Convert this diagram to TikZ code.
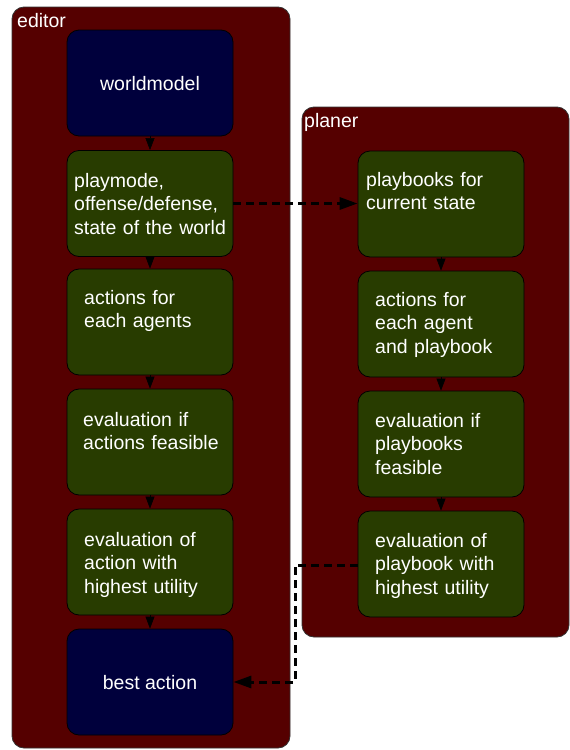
\documentclass[tikz,border=0pt]{standalone}
\usepackage{fontspec}
\setmainfont{Liberation Sans}
\usetikzlibrary{arrows.meta}
\definecolor{contred}{RGB}{85,0,0}
\definecolor{boxnavy}{RGB}{0,0,60}
\definecolor{boxgreen}{RGB}{40,60,0}
\tikzset{
  container/.style={draw=black!80, line width=0.8pt, fill=contred, rounded corners=12pt},
  boxbase/.style={draw=black, line width=0.8pt, rounded corners=12pt, minimum width=166pt, minimum height=106pt, inner sep=0pt},
  navybox/.style={boxbase, fill=boxnavy},
  greenbox/.style={boxbase, fill=boxgreen},
  txt/.style={text=white, font=\fontsize{19.5}{23.7}\selectfont, inner sep=0pt},
  multitxt/.style={txt, anchor=base west, text width=160pt, align=left},
  flow/.style={draw=black, line width=0.6pt, -{Triangle[length=12pt,width=9pt]}},
  dashflow/.style={draw=black, line width=3pt, dash pattern=on 8pt off 5pt, -{Triangle[length=18pt,width=12pt]}}
}
\begin{document}
\begin{tikzpicture}[x=1pt,y=-1pt]
\useasboundingbox (0,0) rectangle (570,750);
% containers
\draw[container] (12,7) rectangle (290,748);
\draw[container] (302,107) rectangle (569,637);
\node[txt, anchor=base west] (editorlbl) at (17,27) {editor};
\node[txt, anchor=base west] (planerlbl) at (304,127) {planer};
% editor column
\node[navybox] (b1) at (150,83) {};
\node[greenbox] (b2) at (150,203.5) {};
\node[greenbox] (b3) at (150,322) {};
\node[greenbox] (b4) at (150,442) {};
\node[greenbox] (b5) at (150,562) {};
\node[navybox] (b6) at (150,682) {};
\node[txt, anchor=base] (b1t) at (150,90) {worldmodel};
\node[multitxt] (b2t) at (74,187) {playmode,\\offense/defense,\\state of the world};
\node[multitxt] (b3t) at (84,304) {actions for\\each agents};
\node[multitxt] (b4t) at (83,426) {evaluation if\\actions feasible};
\node[multitxt] (b5t) at (84,546) {evaluation of\\action with\\highest utility};
\node[txt, anchor=base] (b6t) at (150,689) {best action};
% planer column
\node[greenbox] (p1) at (441,204) {};
\node[greenbox] (p2) at (441,324) {};
\node[greenbox] (p3) at (441,444) {};
\node[greenbox] (p4) at (441,564) {};
\node[multitxt] (p1t) at (366,186) {playbooks for\\current state};
\node[multitxt] (p2t) at (375,306) {actions for\\each agent\\and playbook};
\node[multitxt] (p3t) at (375,427) {evaluation if\\playbooks\\feasible};
\node[multitxt] (p4t) at (375,547) {evaluation of\\playbook with\\highest utility};
% flow arrows
\draw[flow] (b1) -- (b2);
\draw[flow] (b2) -- (b3);
\draw[flow] (b3) -- (b4);
\draw[flow] (b4) -- (b5);
\draw[flow] (b5) -- (b6);
\draw[flow] (p1) -- (p2);
\draw[flow] (p2) -- (p3);
\draw[flow] (p3) -- (p4);
% dashed links
\draw[dashflow] (b2.east) -- (b2.east -| p1.west);
\coordinate (turn) at (295,565);
\draw[dashflow] (p4.west |- turn) -- (turn) |- (b6.east);
\end{tikzpicture}
\end{document}
